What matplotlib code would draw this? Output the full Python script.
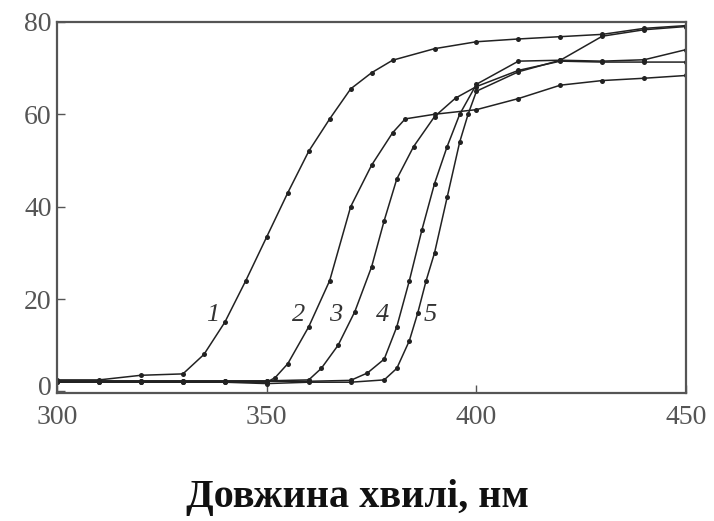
#!/usr/bin/env python3
"""Спектри пропускання: криві 1-5, довжина хвилі 300-450 нм"""

import numpy as np
import matplotlib
matplotlib.use('Agg')
import matplotlib.pyplot as plt
from matplotlib.transforms import ScaledTranslation

# дані
x1 = [300, 310, 320, 330, 335, 340, 345, 350, 355, 360, 365, 370, 375, 380, 390, 400, 410, 420, 430, 440, 450]
y1 = [2.5, 2.5, 3.5, 3.8, 8, 15, 24, 33.5, 43, 52, 59, 65.5, 69, 71.7, 74.2, 75.7, 76.3, 76.8, 77.3, 78.6, 79.2]

x2 = [300, 310, 320, 330, 340, 350, 352, 355, 360, 365, 370, 375, 380, 383, 390, 400, 410, 420, 430, 440, 450]
y2 = [2, 2, 2, 2, 2, 2, 3, 6, 14, 24, 40, 49, 56, 59, 60, 61, 63.4, 66.3, 67.3, 67.8, 68.4]

x3 = [300, 310, 320, 330, 340, 350, 360, 363, 367, 371, 375, 378, 381, 385, 390, 395, 400, 410, 420, 430, 440, 450]
y3 = [2.3, 2.3, 2.3, 2.3, 2.3, 2.3, 2.5, 5, 10, 17.3, 27, 37, 46, 53, 59.5, 63.5, 66, 69.5, 71.5, 71.3, 71.3, 71.3]

x4 = [300, 310, 320, 330, 340, 350, 360, 370, 374, 378, 381, 384, 387, 390, 393, 396, 400, 410, 420, 430, 440, 450]
y4 = [2.2, 2.2, 2.2, 2.2, 2.2, 2.2, 2.2, 2.4, 4, 7, 14, 24, 35, 45, 53, 60, 66.5, 71.5, 71.7, 71.5, 71.8, 74]

x5 = [300, 310, 320, 330, 340, 350, 360, 370, 378, 381, 384, 386, 388, 390, 393, 396, 398, 400, 410, 420, 430, 440, 450]
y5 = [2, 2, 2, 2, 2, 1.7, 2, 2, 2.5, 5, 11, 17, 24, 30, 42, 54, 60, 65, 69.2, 71.7, 76.9, 78.3, 79]

curves = [(x1, y1), (x2, y2), (x3, y3), (x4, y4), (x5, y5)]

# підписи кривих
labels = ['1', '2', '3', '4', '5']
label_x = [337, 357.5, 366.5, 377.5, 389]
label_y = [16.5, 16.5, 16.5, 16.5, 16.5]

plt.rcParams['font.family'] = ['Liberation Serif', 'DejaVu Serif']

fig = plt.figure(figsize=(7.14, 5.21), dpi=100)
ax = fig.add_axes([0.080, 0.246, 0.881, 0.712])

for x, y in curves:
    ax.plot(x, y, '-', color='#222222', linewidth=1.1,
            marker='o', markersize=3.6, markerfacecolor='#222222', markeredgewidth=0)

for t, lx, ly in zip(labels, label_x, label_y):
    ax.text(lx, ly, t, fontsize=19, style='italic', color='#333333',
            ha='center', va='center')

ax.set_xlim(300, 450)
ax.set_ylim(-0.3, 80)
ax.set_xticks([300, 350, 400, 450])
ax.set_yticks([0, 20, 40, 60, 80])
ax.tick_params(direction='in', length=6, width=1.0, labelsize=20,
               labelcolor='#555555', color='#555555')
ax.tick_params(axis='x', pad=9)
ax.tick_params(axis='y', pad=4)

# "0" трохи вгору, щоб не налазив на "300"
lab0 = ax.yaxis.get_major_ticks()[0].label1
lab0.set_transform(lab0.get_transform() + ScaledTranslation(0, 4 / 72, fig.dpi_scale_trans))

for s in ax.spines.values():
    s.set_linewidth(1.6)
    s.set_color('#555555')

fig.text(0.50, 0.045, 'Довжина хвилі, нм', fontsize=29, fontweight='bold',
         ha='center', va='center', color='#111111')

fig.savefig('out.png', dpi=100)
